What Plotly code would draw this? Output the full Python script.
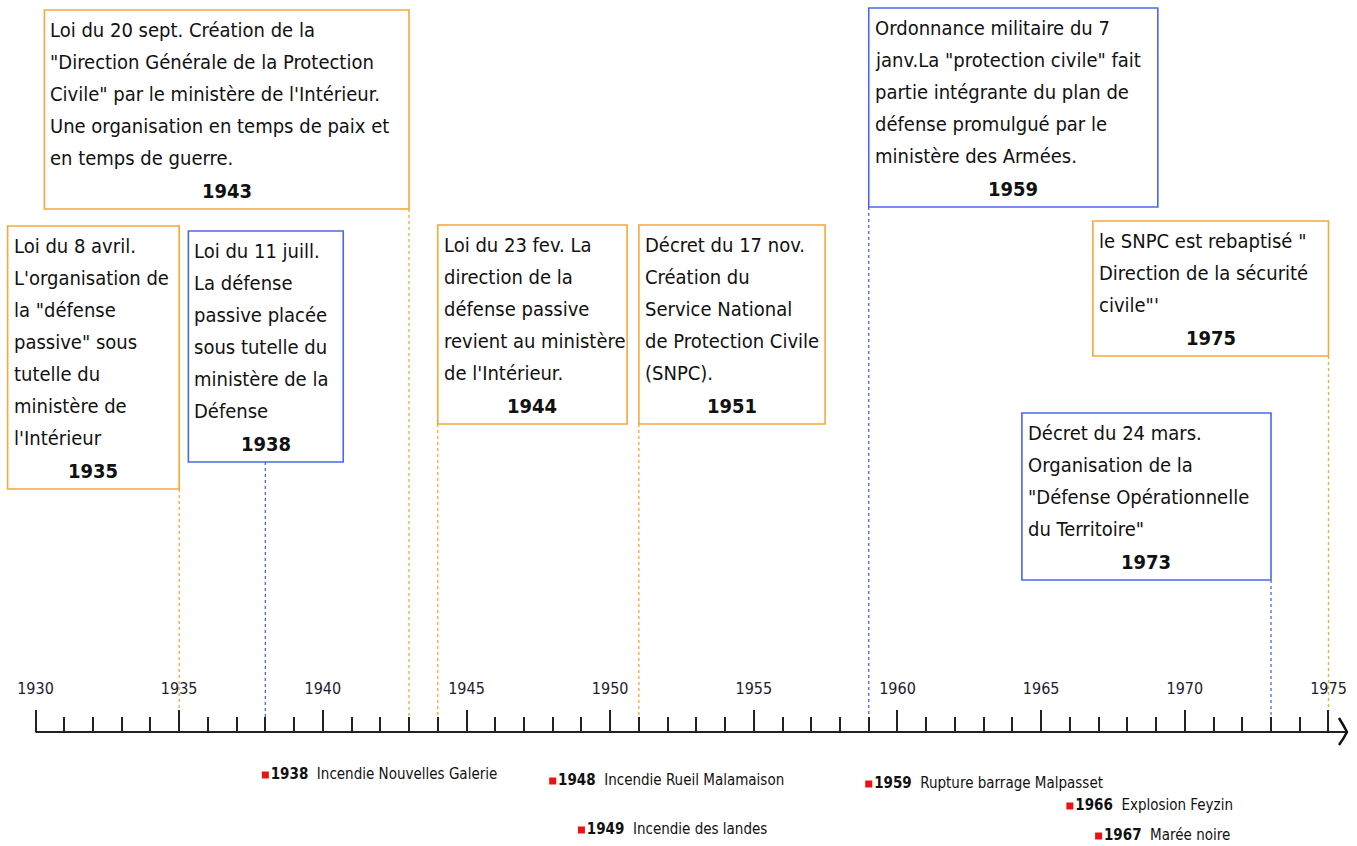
import plotly.graph_objects as go

# ---------------- data ----------------
event_years = [1935, 1938, 1943, 1944, 1951, 1959, 1975, 1973]
event_lines = [
    ["Loi du 8 avril.", "L'organisation de", "la \"défense", "passive\" sous",
     "tutelle du", "ministère de", "l'Intérieur"],
    ["Loi du 11 juill.", "La défense", "passive placée", "sous tutelle du",
     "ministère de la", "Défense"],
    ["Loi du 20 sept. Création de la", "\"Direction Générale de la Protection",
     "Civile\" par le ministère de l'Intérieur.", "Une organisation en temps de paix et",
     "en temps de guerre."],
    ["Loi du 23 fev. La", "direction de la", "défense passive",
     "revient au ministère", "de l'Intérieur."],
    ["Décret du 17 nov.", "Création du", "Service National",
     "de Protection Civile", "(SNPC)."],
    ["Ordonnance militaire du 7", "janv.La \"protection civile\" fait",
     "partie intégrante du plan de", "défense promulgué par le",
     "ministère des Armées."],
    ["le SNPC est rebaptisé \"", "Direction de la sécurité", "civile\"'"],
    ["Décret du 24 mars.", "Organisation de la", "\"Défense Opérationnelle",
     "du Territoire\""],
]
event_kind = ["orange", "blue", "orange", "orange", "orange", "blue", "orange", "blue"]

disaster_years = [1938, 1948, 1949, 1959, 1966, 1967]
disaster_labels = ["Incendie Nouvelles Galerie", "Incendie Rueil Malamaison",
                   "Incendie des landes", "Rupture barrage Malpasset",
                   "Explosion Feyzin", "Marée noire"]

axis_start, axis_end = 1930, 1975
major_ticks = list(range(1930, 1976, 5))
minor_ticks = list(range(1930, 1976, 1))

# ---------------- layout constants ----------------
W, H = 1357, 846
PX_PER_YEAR = 28.733
X0 = 1930 - 35.5 / PX_PER_YEAR
X1 = X0 + W / PX_PER_YEAR
AXIS_Y = 732

# box geometry (x in years, y in pixels from top)
box_left = [1929.03, 1935.32, 1930.31, 1944.0, 1951.0, 1959.0, 1966.8, 1964.33]
box_right = [1935.0, 1940.71, 1943.0, 1950.59, 1957.48, 1969.06, 1975.0, 1973.0]
box_top = [226, 231, 10, 225, 225, 8, 221, 413]
FIRST_LINE = 20
LINE_STEP = 32
YEAR_GAP = 33
BOTTOM_PAD = 18

disaster_y = [775, 781, 830, 784, 806, 836]

COLORS = {"orange": "#F6A83A", "blue": "#4A68EE"}
FONT = "Liberation Sans Narrow, Arial Narrow, DejaVu Sans Condensed, sans-serif"
TXT = "#111111"

fig = go.Figure()
shapes = []
annotations = []

for yr, lines, kind, xl, xr, top in zip(event_years, event_lines, event_kind,
                                         box_left, box_right, box_top):
    col = COLORS[kind]
    n = len(lines)
    year_y = top + FIRST_LINE + LINE_STEP * (n - 1) + YEAR_GAP
    bottom = year_y + BOTTOM_PAD
    # connector
    shapes.append(dict(type="line", xref="x", yref="y", x0=yr, x1=yr,
                       y0=bottom, y1=AXIS_Y, line=dict(color=col, width=1.3, dash="dot"),
                       layer="below"))
    shapes.append(dict(type="rect", xref="x", yref="y", x0=xl, x1=xr,
                       y0=top, y1=bottom, line=dict(color=col, width=1.6),
                       fillcolor="white", layer="below"))
    for i, ln in enumerate(lines):
        annotations.append(dict(x=xl + 4 / PX_PER_YEAR, y=top + FIRST_LINE + LINE_STEP * i,
                                xref="x", yref="y", text=ln, showarrow=False,
                                xanchor="left", yanchor="middle",
                                font=dict(family=FONT, size=20, color=TXT)))
    annotations.append(dict(x=(xl + xr) / 2, y=year_y, xref="x", yref="y",
                            text="<b>%d</b>" % yr, showarrow=False,
                            xanchor="center", yanchor="middle",
                            font=dict(family=FONT, size=20, color=TXT)))

# baseline and arrow head
shapes.append(dict(type="line", xref="x", yref="y", x0=axis_start,
                   x1=axis_end + 17.5 / PX_PER_YEAR, y0=AXIS_Y, y1=AXIS_Y,
                   line=dict(color="#222", width=2)))
ah = axis_end + 18.5 / PX_PER_YEAR
shapes.append(dict(type="path", xref="x", yref="y",
                   path="M %f,%f Q %f,%f %f,%f Q %f,%f %f,%f" % (
                       ah - 8 / PX_PER_YEAR, AXIS_Y - 14,
                       ah - 3 / PX_PER_YEAR, AXIS_Y - 6, ah, AXIS_Y,
                       ah - 3 / PX_PER_YEAR, AXIS_Y + 6, ah - 8 / PX_PER_YEAR, AXIS_Y + 13),
                   line=dict(color="#111", width=2.5)))

# disasters below the axis
fig.add_trace(go.Scatter(
    x=disaster_years, y=disaster_y, mode="markers+text",
    marker=dict(symbol="square", size=7, color="#EE1111"),
    text=["<b>%d</b>  %s" % (y, t) for y, t in zip(disaster_years, disaster_labels)],
    textposition="middle right",
    textfont=dict(family=FONT, size=15, color=TXT),
    hoverinfo="skip", cliponaxis=False, showlegend=False))

fig.update_layout(
    width=W, height=H, margin=dict(l=0, r=0, t=0, b=0),
    paper_bgcolor="white", plot_bgcolor="white",
    shapes=shapes, annotations=annotations, showlegend=False,
    xaxis=dict(range=[X0, X1], domain=[0, 1], side="top", anchor="free",
               position=(H - AXIS_Y) / H, showline=False, showgrid=False, zeroline=False,
               tickmode="array", tickvals=major_ticks,
               ticktext=[str(t) for t in major_ticks],
               ticks="outside", ticklen=22, tickwidth=1.5, tickcolor="#222",
               ticklabelstandoff=10,
               tickfont=dict(family=FONT, size=16, color="#1c1c30"),
               minor=dict(tickmode="array", tickvals=minor_ticks, ticks="outside",
                          ticklen=15, tickwidth=1.5, tickcolor="#222"),
               fixedrange=True),
    yaxis=dict(range=[H, 0], domain=[0, 1], visible=False, fixedrange=True),
)

fig.write_html("out.html", config={"displayModeBar": False},
               post_script="document.body.style.margin='0';")
